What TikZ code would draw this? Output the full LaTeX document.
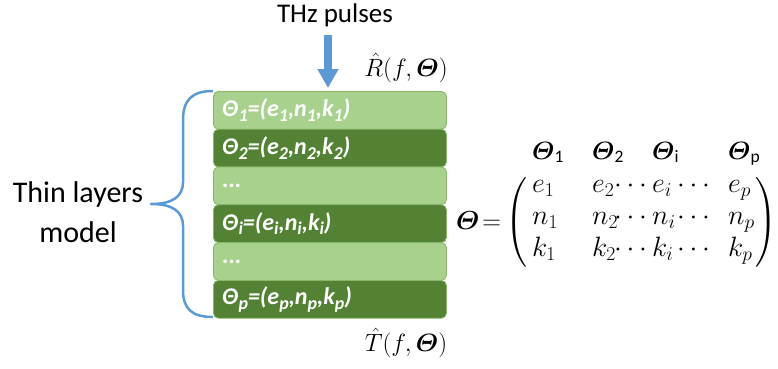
\RequirePackage{fix-cm}
\documentclass[tikz,border=0pt]{standalone}
\usepackage{amsmath}
\usepackage{fontspec}
\setmainfont{Carlito}
\usetikzlibrary{arrows.meta}
\definecolor{lgreen}{HTML}{A9D18E}
\definecolor{dgreen}{HTML}{548235}
\definecolor{lborder}{HTML}{86B866}
\definecolor{tblue}{HTML}{5B9BD5}
\newcommand{\lsub}[1]{\raisebox{-0.4ex}{\fontsize{18}{18}\selectfont #1}}
\newcommand{\bTh}{\boldsymbol{\varTheta}}
\begin{document}
\begin{tikzpicture}[x=1pt,y=-1pt,
  layer/.style={rectangle, rounded corners=5pt, minimum width=233pt, minimum height=37.8pt,
    anchor=north west, inner xsep=9pt, inner ysep=0pt, text width=215pt, align=left,
    text=white, font=\fontsize{24}{26}\selectfont\bfseries\itshape, draw=lborder, line width=0.8pt},
  lightlayer/.style={layer, fill=lgreen},
  darklayer/.style={layer, fill=dgreen},
  ent/.style={anchor=base west, inner sep=0pt, font=\fontsize{28}{32}\selectfont},
  hdr/.style={anchor=base west, inner sep=0pt, font=\fontsize{25}{30}\selectfont},
  lbl/.style={inner sep=0pt, font=\fontsize{25}{30}\selectfont},
  txt/.style={inner sep=0pt, align=center}]
\useasboundingbox (0,0) rectangle (778,368);

% title and arrow
\node[txt, font=\fontsize{27}{30}\selectfont, anchor=base] (thz) at (335,22) {THz pulses};
\coordinate (atop) at (328,35);
\coordinate (atip) at (328,88);
\draw[tblue, line width=8pt, -{Triangle[width=20pt,length=19pt]}] (atop) -- (atip);

% layers
\node[lightlayer] (l1) at (213,91)    {Θ\lsub{1}=(e\lsub{1},n\lsub{1},k\lsub{1})};
\node[darklayer]  (l2) at (213,128.8) {Θ\lsub{2}=(e\lsub{2},n\lsub{2},k\lsub{2})};
\node[lightlayer] (l3) at (213,166.6) {...};
\node[darklayer]  (l4) at (213,204.4) {Θ\lsub{i}=(e\lsub{i},n\lsub{i},k\lsub{i})};
\node[lightlayer] (l5) at (213,242.2) {...};
\node[darklayer]  (l6) at (213,280)   {Θ\lsub{p}=(e\lsub{p},n\lsub{p},k\lsub{p})};

% R and T
\node[lbl] (R) at (406,68) {$\hat{R}(f,\bTh)$};
\node[lbl] (T) at (406,343) {$\hat{T}(f,\bTh)$};

% brace
\draw[tblue, line width=2.5pt, line join=round]
  (213,91) .. controls (192,91) and (183,100) .. (183,120) -- (183,182)
  .. controls (183,197) and (172,204) .. (151,204)
  .. controls (172,204) and (183,211) .. (183,226) -- (183,290)
  .. controls (183,309) and (192,317) .. (213,317);
\node[txt, font=\fontsize{30}{40}\selectfont] (model) at (78,212) {Thin layers\\model};

% matrix
\node[hdr] (h1) at (532,159) {$\bTh_{\text{1}}$};
\node[hdr] (h2) at (592,159) {$\bTh_{\text{2}}$};
\node[hdr] (hi) at (652,159) {$\bTh_{\text{i}}$};
\node[hdr] (hp) at (728,159) {$\bTh_{\text{p}}$};
\node[ent, font=\fontsize{26}{30}\selectfont] (eq) at (456,229) {$\bTh\!=$};
\node[lbl] (lp) at (517,222) {$\left(\vcenter{\hbox{\rule{0pt}{84pt}}}\right.$};
\node[lbl] (rp) at (766,222) {$\left.\vcenter{\hbox{\rule{0pt}{84pt}}}\right)$};
\foreach \v/\y in {e/192,n/224,k/256} {
  \node[ent] (\v-1) at (532,\y) {$\v_1$};
  \node[ent] (\v-2) at (592,\y) {$\v_2$};
  \node[ent] (\v-d1) at (614,\y) {$\cdots$};
  \node[ent] (\v-i) at (652,\y) {$\v_i$};
  \node[ent] (\v-d2) at (677,\y) {$\cdots$};
  \node[ent] (\v-p) at (728,\y) {$\v_p$};
}
\end{tikzpicture}
\end{document}
